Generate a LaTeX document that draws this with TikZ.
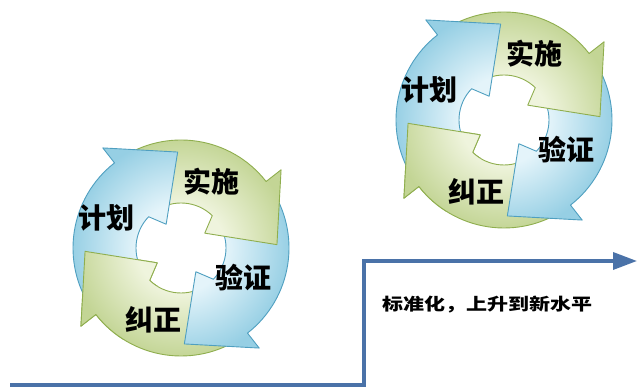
\documentclass[tikz,border=0pt]{standalone}
\usepackage{fontspec}
\newfontfamily\cjk{Noto Sans CJK SC}
\usetikzlibrary{arrows.meta}
\definecolor{bluein}{HTML}{E4F4FA}
\definecolor{blueout}{HTML}{96CFE4}
\definecolor{blueline}{HTML}{4F9FC0}
\definecolor{greenin}{HTML}{EFF4DD}
\definecolor{greenout}{HTML}{C3D595}
\definecolor{greenline}{HTML}{8FAE4E}
\definecolor{flow}{HTML}{4A72A8}
\pgfdeclareradialshading{ringblue}{\pgfpoint{0bp}{0bp}}{color(0bp)=(bluein); color(10bp)=(bluein); color(25bp)=(blueout); color(50bp)=(blueout)}
\pgfdeclareradialshading{ringgreen}{\pgfpoint{0bp}{0bp}}{color(0bp)=(greenin); color(10bp)=(greenin); color(25bp)=(greenout); color(50bp)=(greenout)}
% tail angle, head base angle, shading, line colour
\newcommand\carrow[4]{%
  \begin{scope}
    \clip (#1:108) arc[start angle=#1, end angle=#2, radius=108] -- (#2:127) -- ({#2-36}:96) -- ({#2-6}:28) -- ({#2+8}:45) arc[start angle={#2+8}, end angle=#1, radius=45] -- cycle;
    \shade[shading=#3] (-110,-110) rectangle (110,110);
  \end{scope}
  \draw[draw=#4, line width=0.9pt, line join=round]
    (#1:108) arc[start angle=#1, end angle=#2, radius=108] -- (#2:127) -- ({#2-36}:96) -- ({#2-6}:28) -- ({#2+8}:45) arc[start angle={#2+8}, end angle=#1, radius=45] -- cycle;
}
% centre x, centre y, name prefix
\newcommand\pdca[3]{%
  \begin{scope}[shift={(#1,#2)}]
    \carrow{-55}{-142}{ringgreen}{greenline}
    \carrow{35}{-52}{ringblue}{blueline}
    \carrow{125}{38}{ringgreen}{greenline}
    \carrow{215}{128}{ringblue}{blueline}
    \begin{scope}
      \clip (0,0) -- (140:160) arc[start angle=140, end angle=238, radius=160] -- cycle;
      \carrow{-55}{-142}{ringgreen}{greenline}
    \end{scope}
    \node[lbl] (#3plan) at (-75,30) {计划};
    \node[lbl] (#3do) at (30,66) {实施};
    \node[lbl] (#3check) at (62,-30) {验证};
    \node[lbl] (#3act) at (-28,-72) {纠正};
  \end{scope}
}
\begin{document}
\begin{tikzpicture}[x=1pt,y=1pt,
  lbl/.style={font=\cjk\bfseries\fontsize{28}{28}\selectfont, inner sep=0pt},
  flowline/.style={draw=flow, line width=3.5pt, line join=miter},
  note/.style={font=\cjk\bfseries\fontsize{21}{21}\selectfont, inner sep=0pt, yscale=0.8, transform shape}]
  \useasboundingbox (0,0) rectangle (638,387);
  \pdca{181}{139}{L}
  \pdca{504}{267}{R}
  \coordinate (s) at (10,2);
  \coordinate (c1) at (364,2);
  \coordinate (c2) at (364,126);
  \coordinate (e) at (637,126);
  \draw[flowline, -{Triangle[length=24pt,width=17pt]}] (s) -- (c1) -- (c2) -- (e);
  \node[note] (std) at (487,82) {标准化，上升到新水平};
\end{tikzpicture}
\end{document}
